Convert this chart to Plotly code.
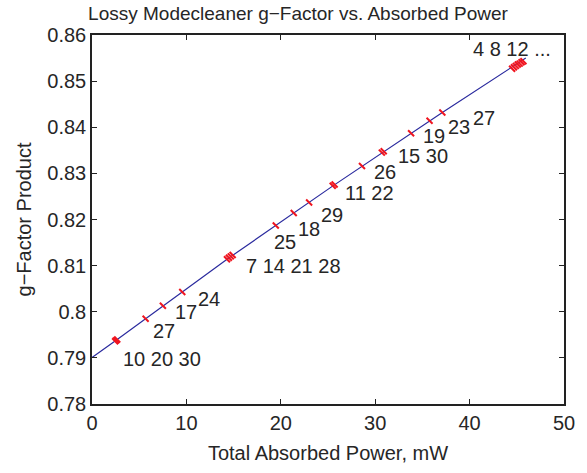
import plotly.graph_objects as go

# Measured points (total absorbed power in mW, g-factor product)
power_mw = [2.45, 2.56, 2.67, 5.68, 7.51, 9.56, 14.3, 14.5, 14.7, 14.9,
            19.47, 21.37, 23.0, 25.5, 25.7, 28.6, 30.7, 30.9, 33.8, 35.76,
            37.11, 44.5, 44.7, 44.9, 45.1, 45.3, 45.5, 45.7]
g_product = [0.7936, 0.7938, 0.7940, 0.7985, 0.8013, 0.8043, 0.8114, 0.8117,
             0.8120, 0.8123, 0.8187, 0.8214, 0.8237, 0.8273, 0.8276, 0.8316,
             0.8345, 0.8348, 0.8387, 0.8414, 0.8432, 0.8527, 0.8530, 0.8533,
             0.8536, 0.8538, 0.8541, 0.8543]

# Fitted curve
fit_power = [0, 2.56, 9.56, 14.6, 25.6, 37.11, 45.95]
fit_g = [0.7901, 0.7938, 0.8043, 0.8118, 0.8274, 0.8432, 0.8550]

# Point labels
label_text = ["10 20 30", "27", "17", "24", "7 14 21 28", "25", "18", "29",
              "11 22", "26", "15 30", "19", "23", "27", "4 8 12 ..."]
label_x = [3.09, 6.24, 8.63, 11.02, 16.11, 19.02, 21.62, 24.01, 26.61, 29.63,
           32.22, 34.82, 37.53, 40.12, 40.12]
label_y = [0.7897, 0.7959, 0.8000, 0.8028, 0.8099, 0.8151, 0.8179, 0.8209,
           0.8258, 0.8302, 0.8338, 0.8381, 0.8400, 0.8419, 0.8570]

x_ticks = [0, 10, 20, 30, 40, 50]
y_ticks = [0.78, 0.79, 0.80, 0.81, 0.82, 0.83, 0.84, 0.85, 0.86]
y_tick_text = ["0.78", "0.79", "0.8", "0.81", "0.82", "0.83", "0.84", "0.85", "0.86"]

FONT = "Liberation Sans, Arial, Helvetica, sans-serif"
TXT = "#262626"

fig = go.Figure()
fig.add_trace(go.Scatter(x=fit_power, y=fit_g, mode="lines",
                         line=dict(color="#2a2a9e", width=1.2),
                         hoverinfo="skip", showlegend=False))
fig.add_trace(go.Scatter(x=power_mw, y=g_product, mode="markers",
                         marker=dict(symbol="line-nw", size=6, color="#f0141e",
                                     line=dict(color="#f0141e", width=2)),
                         showlegend=False))

for t, x, y in zip(label_text, label_x, label_y):
    fig.add_annotation(x=x, y=y, text=t, showarrow=False, xanchor="left",
                       yanchor="middle", font=dict(family=FONT, size=20, color=TXT))

axis_common = dict(showgrid=False, zeroline=False, showline=True, linecolor="#222",
                   linewidth=1.5, mirror="allticks", ticks="inside", ticklen=5,
                   tickcolor="#222", tickwidth=1,
                   tickfont=dict(family=FONT, size=20, color=TXT))

fig.update_layout(
    width=587, height=473,
    margin=dict(l=92, r=14, t=35, b=66),
    paper_bgcolor="white", plot_bgcolor="white",
    title=dict(text="Lossy Modecleaner g\u2212Factor vs. Absorbed Power",
               x=298 / 587, xanchor="center", y=1 - 13 / 473, yanchor="middle",
               font=dict(family=FONT, size=19, color=TXT)),
    xaxis=dict(range=[0, 50], tickvals=x_ticks,
               title=dict(text="Total Absorbed Power, mW", standoff=13,
                          font=dict(family=FONT, size=20, color=TXT)),
               **axis_common),
    yaxis=dict(range=[0.78, 0.86], tickvals=y_ticks, ticktext=y_tick_text,
               title=dict(text="g\u2212Factor Product", standoff=10,
                          font=dict(family=FONT, size=20, color=TXT)),
               **axis_common),
)

fig.write_html("out.html")
